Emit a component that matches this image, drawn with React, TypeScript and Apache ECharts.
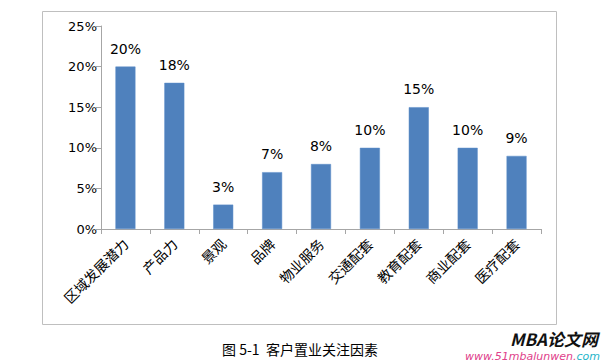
import React, { useEffect, useRef } from "react";
import * as echarts from "echarts";

const categories = ["区域发展潜力", "产品力", "景观", "品牌", "物业服务", "交通配套", "教育配套", "商业配套", "医疗配套"];
const values = [20, 18, 3, 7, 8, 10, 15, 10, 9];
const yTicks = [0, 5, 10, 15, 20, 25];
const caption = "图 5-1  客户置业关注因素";
const brand = "MBA论文网";
const site = "www.51mbalunwen.";
const siteEnd = "com";

export default function App() {
  const ref = useRef<HTMLDivElement>(null);
  useEffect(() => {
    if (!ref.current) return;
    const chart = echarts.init(ref.current, null, { renderer: "svg" });
    chart.setOption({
      animation: false,
      backgroundColor: "#ffffff",
      grid: { left: 101, right: 62, top: 26, bottom: 133, containLabel: false },
      xAxis: {
        type: "category",
        data: categories,
        axisLine: { lineStyle: { color: "#A6A6A6", width: 1 } },
        axisTick: { show: true, length: 5, alignWithLabel: false, lineStyle: { color: "#A6A6A6" } },
        axisLabel: {
          rotate: 45,
          interval: 0,
          margin: 12,
          color: "#000000",
          fontSize: 14,
          fontFamily: "Noto Sans CJK SC",
        },
      },
      yAxis: {
        type: "value",
        min: yTicks[0],
        max: yTicks[yTicks.length - 1],
        interval: 5,
        splitLine: { show: false },
        axisLine: { show: true, lineStyle: { color: "#A6A6A6", width: 1 } },
        axisTick: { show: true, length: 5, lineStyle: { color: "#A6A6A6" } },
        axisLabel: {
          formatter: (v: number) => v + "%",
          color: "#000000",
          fontSize: 13,
          margin: 4,
          fontFamily: "DejaVu Sans",
        },
      },
      series: [
        {
          type: "bar",
          data: values,
          barWidth: 20,
          itemStyle: { color: "#4F81BD", borderColor: "#5B8CC8", borderWidth: 0.5 },
          label: {
            show: true,
            position: "top",
            distance: 11,
            formatter: (p: any) => p.value + "%",
            color: "#000000",
            fontSize: 14,
            fontFamily: "DejaVu Sans",
          },
        },
      ],
      graphic: [
        {
          type: "rect",
          shape: { x: 42.5, y: 11.5, width: 514, height: 313 },
          style: { fill: "none", stroke: "#BFBFBF", lineWidth: 1 },
          z: 0,
        },
        {
          type: "text",
          x: 300,
          y: 349,
          style: {
            text: caption,
            fill: "#000000",
            fontSize: 14,
            fontFamily: "Noto Sans CJK SC",
            align: "center",
            verticalAlign: "middle",
          },
        },
        {
          type: "text",
          x: 598,
          y: 338,
          style: {
            text: brand,
            fill: "#111111",
            fontSize: 17,
            fontWeight: "bold",
            fontStyle: "italic",
            fontFamily: "Noto Sans CJK SC",
            align: "right",
            verticalAlign: "middle",
          },
        },
        {
          type: "text",
          x: 600,
          y: 356,
          style: {
            text: "{a|" + site + "}{b|" + siteEnd + "}",
            align: "right",
            verticalAlign: "middle",
            rich: {
              a: { fill: "#E0408A", fontSize: 11, fontStyle: "italic", fontFamily: "DejaVu Sans" },
              b: { fill: "#27B5C9", fontSize: 11, fontStyle: "italic", fontFamily: "DejaVu Sans" },
            },
          },
        },
      ],
    });
    return () => chart.dispose();
  }, []);
  return <div ref={ref} style={{ width: 603, height: 362, position: "fixed", left: 0, top: 0 }} />;
}
